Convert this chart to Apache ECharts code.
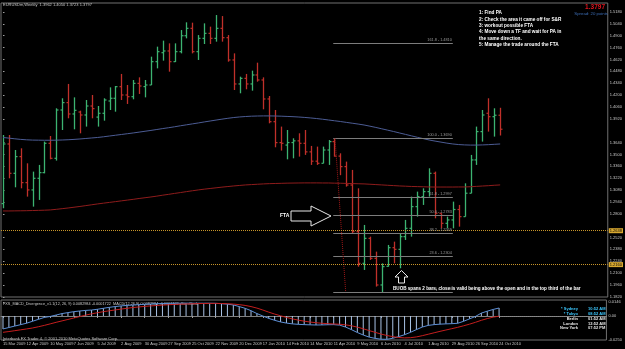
<!DOCTYPE html>
<html>
<head>
<meta charset="utf-8">
<title>EURUSDm,Weekly</title>
<script src="https://cdn.jsdelivr.net/npm/echarts@6.0.0/dist/echarts.min.js"></script>
<style>
html, body { margin: 0; padding: 0; background: #000; }
#container { width: 625px; height: 349px; }
</style>
</head>
<body>
<div id="container"></div>
<script>
// EURUSDm weekly, bar 0 = 15 Mar 2009 ... bar 84 = 24 Oct 2010
var opens = [1.2920,1.3623,1.3277,1.3474,1.3167,1.3081,1.3218,1.3285,1.3631,1.3454,
  1.4024,1.4111,1.3977,1.4000,1.3965,1.4071,1.3940,1.3985,1.4130,1.4162,
  1.4299,1.4201,1.4181,1.4338,1.4300,1.4319,1.4594,1.4700,1.4720,1.4594,
  1.4712,1.4900,1.4987,1.4712,1.4869,1.4928,1.4869,1.4987,1.4877,1.4614,
  1.4331,1.4397,1.4331,1.4437,1.4378,1.4154,1.3886,1.3639,1.3610,1.3640,
  1.3660,1.3631,1.3530,1.3420,1.3395,1.3552,1.3651,1.3480,1.3356,1.3139,
  1.2589,1.2215,1.2510,1.2274,1.1960,1.2180,1.2400,1.2380,1.2530,1.2628,
  1.2884,1.3002,1.3061,1.3277,1.2806,1.2687,1.2727,1.2850,1.2766,1.3042,
  1.3435,1.3769,1.3985,1.3945,1.3962];
var highs = [1.3729,1.3729,1.3552,1.3572,1.3395,1.3297,1.3376,1.3651,1.3717,1.4044,
  1.4162,1.4331,1.4173,1.4016,1.4142,1.4201,1.4071,1.4162,1.4291,1.4307,
  1.4449,1.4319,1.4378,1.4409,1.4378,1.4653,1.4771,1.4842,1.4810,1.4810,
  1.4967,1.5058,1.5054,1.4908,1.5046,1.5007,1.5144,1.5132,1.4908,1.4692,
  1.4417,1.4449,1.4488,1.4582,1.4409,1.4189,1.4024,1.3828,1.3788,1.3690,
  1.3749,1.3788,1.3600,1.3592,1.3592,1.3670,1.3690,1.3513,1.3415,1.3317,
  1.3100,1.2668,1.2530,1.2353,1.2215,1.2432,1.2471,1.2569,1.2727,1.3002,
  1.3061,1.3100,1.3336,1.3297,1.2806,1.2766,1.2943,1.2904,1.3159,1.3494,
  1.3828,1.4024,1.4162,1.4044,1.4050];
var lows = [1.2865,1.3218,1.3112,1.3100,1.3002,1.2884,1.2963,1.3277,1.3442,1.3427,
  1.3788,1.3926,1.3796,1.3749,1.3828,1.3926,1.3828,1.3898,1.4024,1.4004,
  1.4142,1.4095,1.4150,1.4213,1.4173,1.4319,1.4515,1.4606,1.4476,1.4590,
  1.4692,1.4869,1.4692,1.4614,1.4802,1.4802,1.4830,1.4830,1.4594,1.4260,
  1.4221,1.4268,1.4252,1.4358,1.4032,1.3867,1.3584,1.3545,1.3442,1.3454,
  1.3474,1.3494,1.3376,1.3376,1.3395,1.3376,1.3474,1.3255,1.3120,1.2569,
  1.2176,1.2137,1.2255,1.1941,1.1870,1.2176,1.2215,1.2157,1.2491,1.2530,
  1.2766,1.2904,1.3002,1.2746,1.2628,1.2628,1.2628,1.2648,1.2766,1.3042,
  1.3376,1.3651,1.3769,1.3710,1.3723];
var closes = [1.3623,1.3277,1.3474,1.3167,1.3081,1.3218,1.3285,1.3631,1.3454,1.4024,
  1.4111,1.3977,1.4020,1.3965,1.4071,1.4040,1.3985,1.4142,1.4162,1.4299,
  1.4201,1.4181,1.4338,1.4307,1.4319,1.4594,1.4712,1.4720,1.4594,1.4712,
  1.4900,1.4987,1.4712,1.4869,1.4928,1.4869,1.4987,1.4877,1.4614,1.4331,
  1.4397,1.4331,1.4437,1.4378,1.4154,1.3886,1.3639,1.3631,1.3640,1.3660,
  1.3631,1.3530,1.3420,1.3395,1.3552,1.3651,1.3480,1.3356,1.3139,1.2589,
  1.2215,1.2510,1.2274,1.1960,1.2176,1.2400,1.2380,1.2530,1.2628,1.2884,
  1.3002,1.3061,1.3277,1.2806,1.2687,1.2727,1.2850,1.2766,1.3042,1.3435,
  1.3769,1.3965,1.3945,1.3962,1.3797];

// moving averages (blue and red)
var maBlue = [1.3700,1.3692,1.3684,1.3677,1.3672,1.3669,1.3668,1.3667,1.3667,1.3668,
  1.3670,1.3673,1.3677,1.3682,1.3688,1.3694,1.3700,1.3708,1.3717,1.3726,
  1.3735,1.3744,1.3753,1.3763,1.3773,1.3783,1.3794,1.3805,1.3815,1.3826,
  1.3838,1.3849,1.3860,1.3871,1.3883,1.3894,1.3905,1.3916,1.3926,1.3935,
  1.3942,1.3947,1.3951,1.3953,1.3954,1.3954,1.3953,1.3951,1.3948,1.3945,
  1.3941,1.3936,1.3930,1.3923,1.3915,1.3906,1.3897,1.3888,1.3878,1.3868,
  1.3858,1.3847,1.3833,1.3818,1.3802,1.3786,1.3770,1.3753,1.3736,1.3719,
  1.3702,1.3686,1.3670,1.3657,1.3645,1.3633,1.3623,1.3616,1.3612,1.3610,
  1.3610,1.3612,1.3615,1.3619,1.3623];
var maRed = [1.2833,1.2833,1.2834,1.2835,1.2836,1.2838,1.2840,1.2842,1.2845,1.2852,
  1.2860,1.2868,1.2877,1.2886,1.2896,1.2906,1.2916,1.2925,1.2934,1.2943,
  1.2952,1.2961,1.2970,1.2980,1.2989,1.2998,1.3008,1.3019,1.3029,1.3040,
  1.3050,1.3061,1.3071,1.3081,1.3090,1.3098,1.3106,1.3114,1.3121,1.3128,
  1.3134,1.3140,1.3144,1.3148,1.3152,1.3155,1.3157,1.3159,1.3161,1.3162,
  1.3163,1.3164,1.3164,1.3164,1.3163,1.3163,1.3161,1.3160,1.3158,1.3156,
  1.3154,1.3152,1.3148,1.3144,1.3140,1.3136,1.3132,1.3128,1.3125,1.3122,
  1.3120,1.3118,1.3116,1.3115,1.3115,1.3115,1.3115,1.3116,1.3116,1.3119,
  1.3123,1.3127,1.3131,1.3136,1.3140];

// MACD sub window
var macdMain = [-0.0135,-0.0120,-0.0105,-0.0090,-0.0075,-0.0055,-0.0035,-0.0015,-0.0005,0.0010,
  0.0025,0.0035,0.0045,0.0052,0.0058,0.0062,0.0070,0.0080,0.0090,0.0098,
  0.0105,0.0110,0.0114,0.0118,0.0122,0.0125,0.0128,0.0130,0.0131,0.0132,
  0.0133,0.0134,0.0133,0.0133,0.0133,0.0133,0.0132,0.0128,0.0123,0.0115,
  0.0098,0.0080,0.0055,0.0025,0.0000,-0.0025,-0.0045,-0.0062,-0.0074,-0.0082,
  -0.0087,-0.0090,-0.0092,-0.0094,-0.0093,-0.0091,-0.0090,-0.0095,-0.0115,-0.0142,
  -0.0172,-0.0198,-0.0220,-0.0233,-0.0242,-0.0243,-0.0232,-0.0215,-0.0195,-0.0170,
  -0.0142,-0.0115,-0.0098,-0.0090,-0.0085,-0.0082,-0.0080,-0.0076,-0.0055,-0.0030,
  -0.0005,0.0030,0.0050,0.0068,0.0083];
var macdSignal = [-0.0170,-0.0162,-0.0153,-0.0144,-0.0135,-0.0125,-0.0112,-0.0098,-0.0082,-0.0066,
  -0.0051,-0.0036,-0.0021,-0.0006,0.0009,0.0022,0.0034,0.0045,0.0054,0.0063,
  0.0072,0.0080,0.0088,0.0094,0.0100,0.0105,0.0109,0.0113,0.0117,0.0120,
  0.0123,0.0125,0.0127,0.0129,0.0130,0.0131,0.0131,0.0130,0.0128,0.0124,
  0.0118,0.0110,0.0098,0.0082,0.0062,0.0040,0.0020,0.0002,-0.0015,-0.0030,
  -0.0043,-0.0054,-0.0063,-0.0070,-0.0076,-0.0080,-0.0083,-0.0086,-0.0092,-0.0102,
  -0.0116,-0.0133,-0.0152,-0.0170,-0.0188,-0.0203,-0.0215,-0.0224,-0.0228,-0.0226,
  -0.0218,-0.0205,-0.0190,-0.0175,-0.0160,-0.0146,-0.0132,-0.0118,-0.0102,-0.0085,
  -0.0066,-0.0045,-0.0027,-0.0012,-0.0002];

var dateLabels = ['15 Mar 2009','12 Apr 2009','10 May 2009','7 Jun 2009','5 Jul 2009','2 Aug 2009',
  '30 Aug 2009','27 Sep 2009','25 Oct 2009','22 Nov 2009','20 Dec 2009','17 Jan 2010',
  '14 Feb 2010','14 Mar 2010','11 Apr 2010','9 May 2010','6 Jun 2010','4 Jul 2010',
  '1 Aug 2010','29 Aug 2010','26 Sep 2010','24 Oct 2010'];
var dateLabelBars = [0,4,8,12,16,20,24,28,32,36,40,44,48,52,56,60,64,68,72,76,80,84];
var priceTicks = [1.5180,1.5040,1.4900,1.4760,1.4620,1.4480,1.4340,1.4200,1.4060,1.3920,
  1.3640,1.3500,1.3360,1.3220,1.3080,1.2940,1.2800,1.2520,1.2380,1.2240,1.2100,1.1960,1.1820];
var macdTicks = [0.0146, 0, -0.0250];

// fibonacci object (from the Apr 2010 high to the Jun 2010 low)
var fibLevels = ['161.8','100.0','61.8','50.0','38.2','23.6','0.0'];
var fibPrices = [1.4810,1.3690,1.2997,1.2783,1.2569,1.2304,1.1876];
var fibStart = 55.8, fibEnd = 76.0;
var fibDiag = [[56.1, 1.3690],[57.9, 1.1876]];
var hLines = [1.2638, 1.2160];
var lastPrice = 1.3797;

var instructions = ['1: Find PA','2: Check the area it came off for S&R','3: workout possible FTA',
  '4: Move down a TF and wait for PA in','the same direction.','5: Manage the trade around the FTA'];
var clockNames = ['* Sydney','* Tokyo','Berlin','London','New York'];
var clockTimes = ['10:52 AM','08:52 AM','01:52 AM','12:52 AM','07:52 PM'];

var upColor = '#3cb371', downColor = '#c0302a';
var font = 'Liberation Sans, Arial, sans-serif';

var ohlc = [];
for (var i = 0; i < closes.length; i++) {
  ohlc.push([i, opens[i], highs[i], lows[i], closes[i]]);
}
function pairs(arr) {
  var out = [];
  for (var i = 0; i < arr.length; i++) out.push([i, arr[i]]);
  return out;
}

function renderBar(params, api) {
  var i = api.value(0);
  var o = api.coord([i, api.value(1)]);
  var h = api.coord([i, api.value(2)]);
  var l = api.coord([i, api.value(3)]);
  var c = api.coord([i, api.value(4)]);
  var col = api.value(4) >= api.value(1) ? upColor : downColor;
  var x = Math.round(h[0]) + 0.5;
  return {
    type: 'group',
    children: [
      { type: 'line', shape: { x1: x, y1: h[1], x2: x, y2: l[1] }, style: { stroke: col, lineWidth: 1.3 } },
      { type: 'line', shape: { x1: x - 2, y1: o[1], x2: x, y2: o[1] }, style: { stroke: col, lineWidth: 1.2 } },
      { type: 'line', shape: { x1: x, y1: c[1], x2: x + 2, y2: c[1] }, style: { stroke: col, lineWidth: 1.2 } }
    ]
  };
}

var fibData = [];
for (var f = 0; f < fibLevels.length; f++) {
  fibData.push([
    { name: fibLevels[f] + ' - ' + fibPrices[f].toFixed(4), coord: [fibStart, fibPrices[f]] },
    { coord: [fibEnd, fibPrices[f]] }
  ]);
}
fibData.push([
  { coord: fibDiag[0], lineStyle: { type: 'dotted', color: '#a01818', width: 1 }, label: { show: false } },
  { coord: fibDiag[1] }
]);

var hLineData = [];
for (var k = 0; k < hLines.length; k++) {
  hLineData.push({ yAxis: hLines[k], name: hLines[k].toFixed(4) });
}
hLineData.push({
  yAxis: lastPrice, name: lastPrice.toFixed(4),
  lineStyle: { opacity: 0 },
  label: { backgroundColor: '#c8c8c8', color: '#000' }
});

var xMin = -0.336, xMax = 102.18;

var graphics = [
  { type: 'text', x: 3, y: 3, style: { text: 'EURUSDm,Weekly  1.3962 1.4050 1.3723 1.3797', fill: '#c8c8c8', fontSize: 4, fontFamily: font } },
  { type: 'text', x: 479, y: 10, style: { text: instructions.join('\n'), fill: '#fff', fontSize: 4.7, fontWeight: 'bold', fontFamily: font, lineHeight: 6.3 } },
  { type: 'text', x: 605, y: 7.5, style: { text: '1.3797', fill: '#e0141e', fontSize: 6.5, fontWeight: 'bold', fontFamily: font, align: 'right', verticalAlign: 'middle' } },
  { type: 'text', x: 608, y: 14, style: { text: 'Spread: 20 points', fill: '#3c6cb4', fontSize: 4.3, fontFamily: font, align: 'right', verticalAlign: 'middle' } },
  { type: 'text', x: 280, y: 216, style: { text: 'FTA', fill: '#fff', fontSize: 5, fontWeight: 'bold', fontFamily: font, verticalAlign: 'middle' } },
  { type: 'polygon', shape: { points: [[291,211],[311,211],[311,206],[331,216],[311,226],[311,221],[291,221]] }, style: { fill: '#000', stroke: '#e8e8e8', lineWidth: 1 } },
  { type: 'polygon', shape: { points: [[398.5,283],[398.5,277],[395,277],[401.5,270.5],[408,277],[404.5,277],[404.5,283]] }, style: { fill: '#000', stroke: '#e8e8e8', lineWidth: 1 } },
  { type: 'text', x: 393, y: 288.5, style: { text: 'BUOB spans 2 bars, close is valid being above the open and in the top third of the bar', fill: '#fff', fontSize: 4.6, fontWeight: 'bold', fontFamily: font, verticalAlign: 'middle' } },
  { type: 'text', x: 3, y: 302, style: { text: 'FXS_MACD_Divergence_v1.1(12, 26, 9) 0.0082984 -0.0001722  MACD(12,26,9) 0.0082984 -0.0001722 -Stc -Clock', fill: '#c8c8c8', fontSize: 3.8, fontFamily: font } },
  { type: 'text', x: 3, y: 336.5, style: { text: 'Interbank FX Trader 4, \u00a9 2001-2010 MetaQuotes Software Corp.', fill: '#c8c8c8', fontSize: 4, fontFamily: font } }
];
for (var n = 0; n < clockNames.length; n++) {
  var cCol = n < 2 ? '#3cc8ff' : '#e8e8e8';
  graphics.push({ type: 'text', x: 578, y: 309 + n * 4.8, style: { text: clockNames[n], fill: cCol, fontSize: 4, fontWeight: 'bold', fontFamily: font, align: 'right', verticalAlign: 'middle' } });
  graphics.push({ type: 'text', x: 588, y: 309 + n * 4.8, style: { text: clockTimes[n], fill: cCol, fontSize: 4, fontWeight: 'bold', fontFamily: font, verticalAlign: 'middle' } });
}

var dom = document.getElementById('container');
var myChart = echarts.init(dom, null, { renderer: 'canvas' });
var option = {
  backgroundColor: '#000',
  animation: false,
  grid: [
    { left: 1, right: 14, top: 3, height: 294, show: true, borderColor: '#707070', borderWidth: 1, backgroundColor: 'transparent' },
    { left: 1, right: 14, top: 300, height: 40, show: true, borderColor: '#707070', borderWidth: 1, backgroundColor: 'transparent' }
  ],
  xAxis: [
    { type: 'value', gridIndex: 0, min: xMin, max: xMax, show: false },
    {
      type: 'value', gridIndex: 1, min: xMin, max: xMax,
      splitLine: { show: false },
      axisLine: { show: true, lineStyle: { color: '#808080' } },
      axisTick: { show: true, customValues: dateLabelBars, length: 2, lineStyle: { color: '#a0a0a0' } },
      axisLabel: {
        customValues: dateLabelBars,
        formatter: function (v) { return dateLabels[dateLabelBars.indexOf(Math.round(v))] || ''; },
        align: 'left', margin: 1.5, fontSize: 4, color: '#c8c8c8', fontFamily: font
      }
    }
  ],
  yAxis: [
    {
      type: 'value', gridIndex: 0, position: 'right', min: 1.1818, max: 1.5286, scale: true,
      splitLine: { show: false },
      axisLine: { show: false },
      axisTick: { show: true, customValues: priceTicks, length: 1.5, lineStyle: { color: '#a0a0a0' } },
      axisLabel: {
        customValues: priceTicks,
        formatter: function (v) { return v.toFixed(4); },
        margin: 2, fontSize: 4, color: '#c8c8c8', fontFamily: font
      }
    },
    {
      type: 'value', gridIndex: 1, position: 'right', min: -0.0250, max: 0.01664,
      splitLine: { show: false },
      axisLine: { show: false },
      axisTick: { show: true, customValues: macdTicks, length: 1.5, lineStyle: { color: '#a0a0a0' } },
      axisLabel: {
        customValues: macdTicks,
        formatter: function (v) { return v === 0 ? '0.00' : v.toFixed(4); },
        margin: 2, fontSize: 4, color: '#c8c8c8', fontFamily: font
      }
    }
  ],
  series: [
    {
      name: 'EURUSDm', type: 'custom', xAxisIndex: 0, yAxisIndex: 0,
      renderItem: renderBar, data: ohlc, encode: { x: 0, y: [1, 2, 3, 4] }, clip: true
    },
    {
      name: 'MA blue', type: 'line', xAxisIndex: 0, yAxisIndex: 0, data: pairs(maBlue),
      showSymbol: false, silent: true, lineStyle: { color: '#4c5c94', width: 1 },
      markLine: {
        silent: true, symbol: ['none', 'none'],
        lineStyle: { color: '#7c7c7c', width: 1, type: 'solid' },
        label: { show: true, position: 'insideEndTop', formatter: '{b}', fontSize: 3.8, color: '#9a9a9a', distance: 1, fontFamily: font },
        data: fibData
      }
    },
    {
      name: 'MA red', type: 'line', xAxisIndex: 0, yAxisIndex: 0, data: pairs(maRed),
      showSymbol: false, silent: true, lineStyle: { color: '#8e1c1c', width: 1 },
      markLine: {
        silent: true, symbol: ['none', 'none'],
        lineStyle: { color: '#c8962a', width: 1, type: 'dotted' },
        label: { show: true, position: 'end', formatter: '{b}', fontSize: 4, color: '#000', backgroundColor: '#d8a830', padding: [0.5, 1], distance: 1, fontFamily: font },
        data: hLineData
      }
    },
    {
      name: 'MACD hist', type: 'bar', xAxisIndex: 1, yAxisIndex: 1, data: pairs(macdMain),
      barWidth: 1, silent: true, itemStyle: { color: '#a9c3e6' }
    },
    {
      name: 'MACD', type: 'line', xAxisIndex: 1, yAxisIndex: 1, data: pairs(macdMain),
      showSymbol: false, silent: true, lineStyle: { color: '#5d8fd6', width: 1 },
      markLine: {
        silent: true, symbol: ['none', 'none'], label: { show: false },
        lineStyle: { color: '#8a8a8a', width: 1, type: 'dotted' },
        data: [[{ coord: [84.5, 0] }, { coord: [xMax, 0] }]]
      }
    },
    {
      name: 'Signal', type: 'line', xAxisIndex: 1, yAxisIndex: 1, data: pairs(macdSignal),
      showSymbol: false, silent: true, lineStyle: { color: '#c41e1e', width: 1 }
    }
  ],
  graphic: { elements: graphics }
};
myChart.setOption(option);
</script>
</body>
</html>
